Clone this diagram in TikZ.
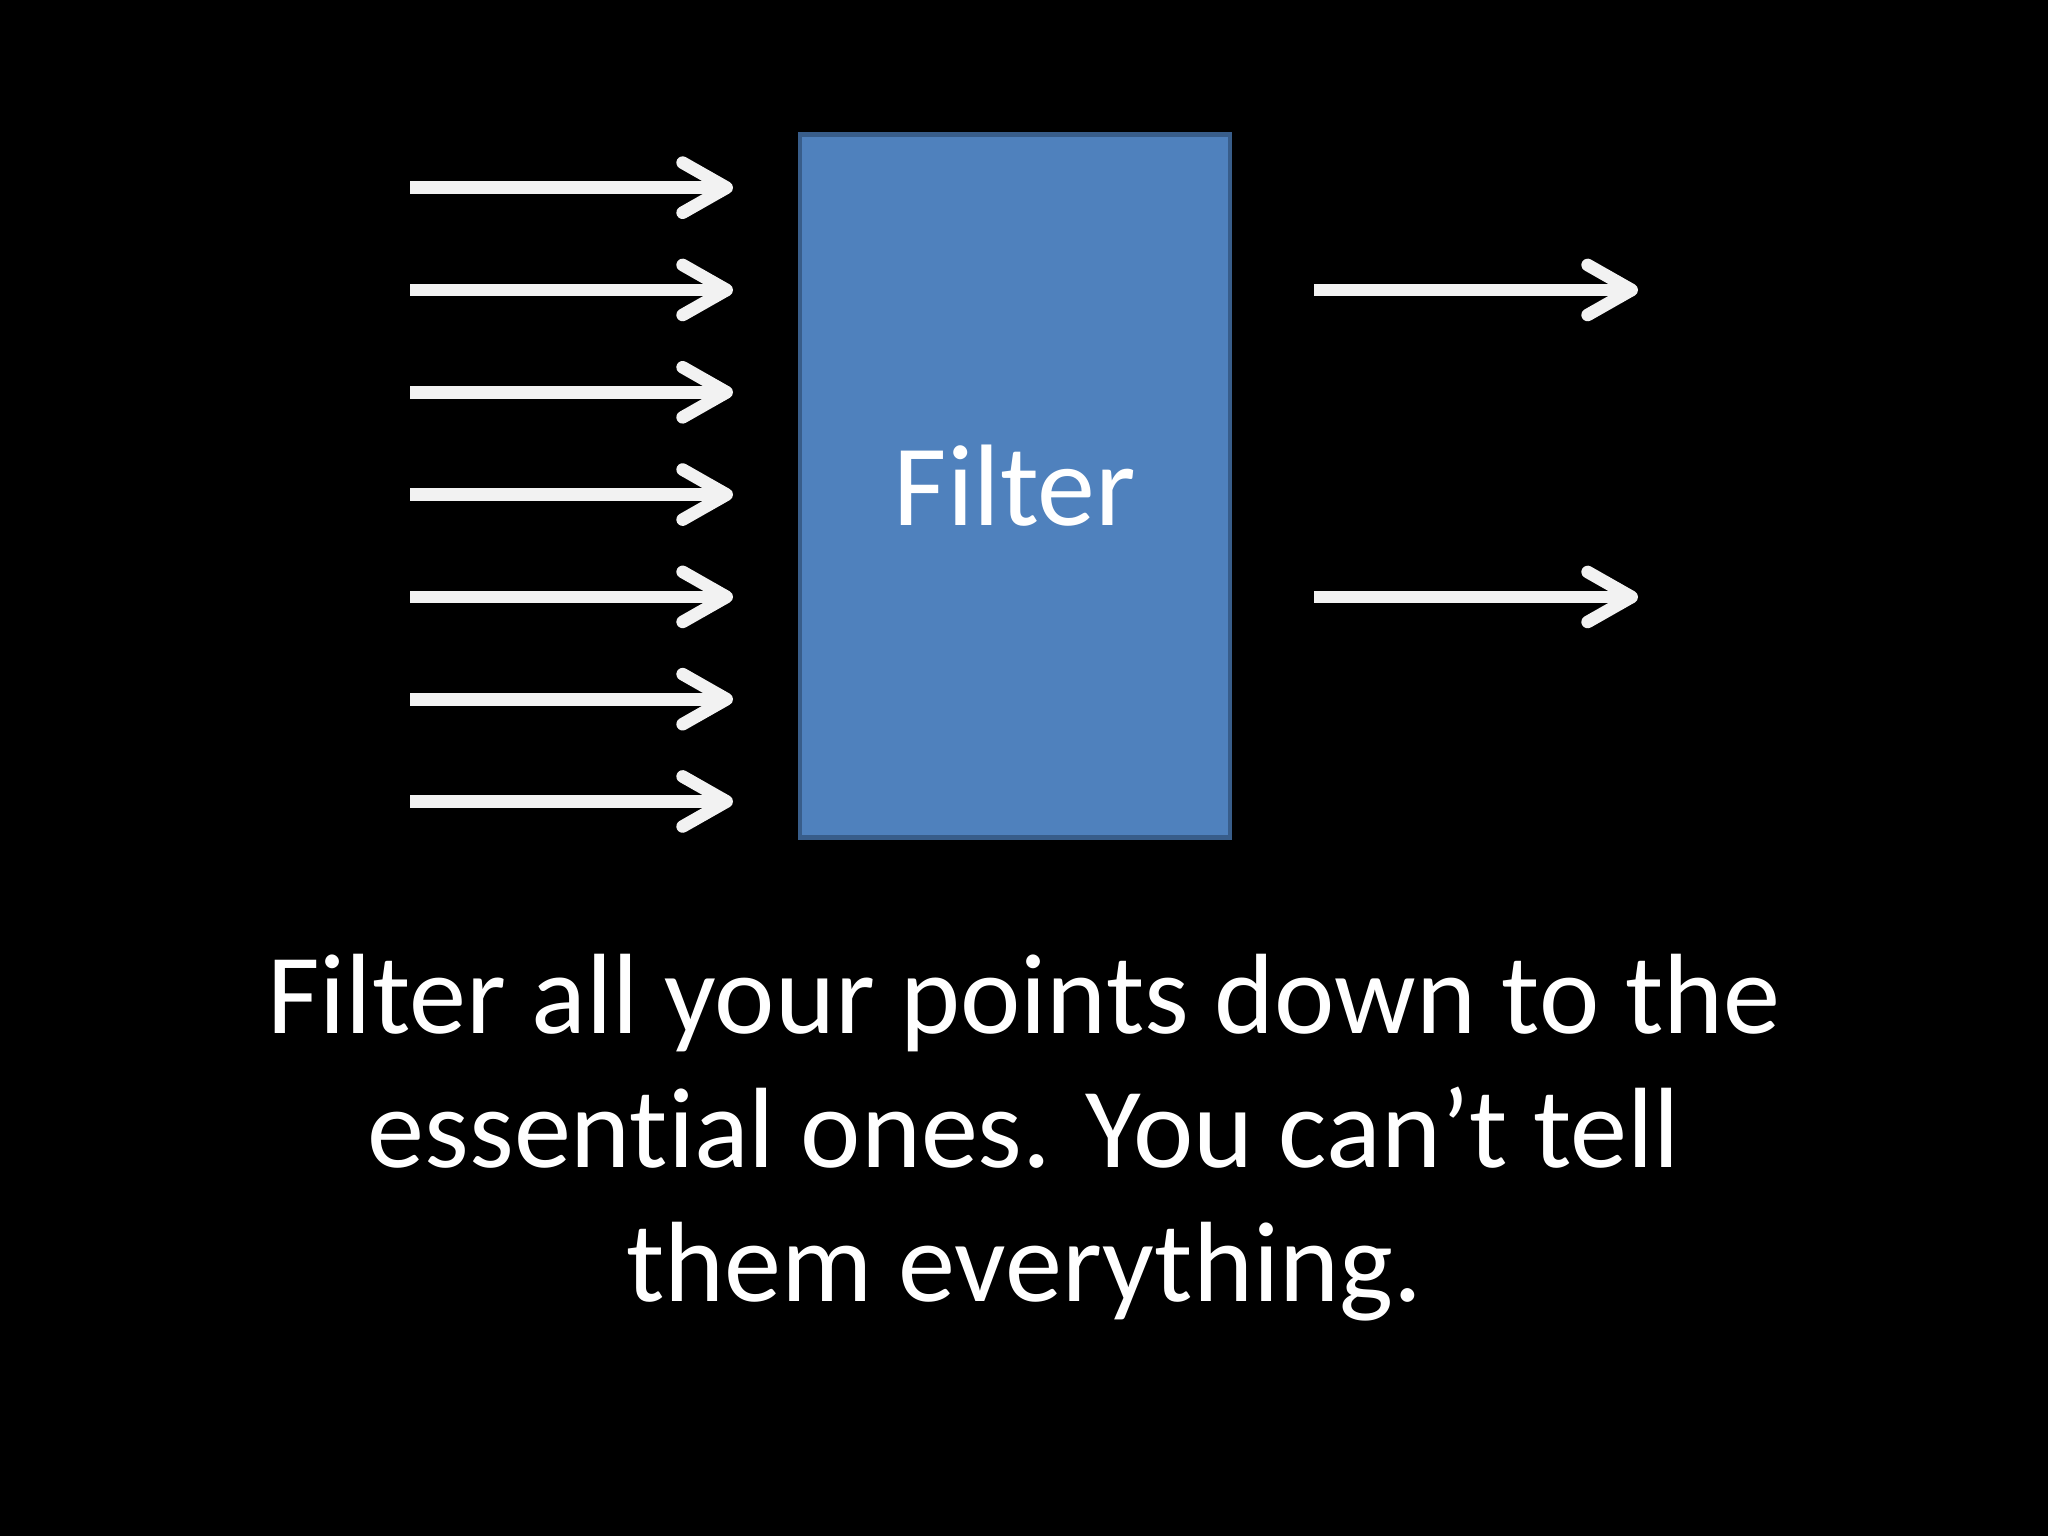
\documentclass[tikz,border=0pt]{standalone}
\usepackage{xcolor}
\usepackage{fontspec}
\setmainfont{Carlito}[Ligatures={NoCommon}]
\usetikzlibrary{arrows.meta}

\definecolor{boxfill}{HTML}{4F81BD}
\definecolor{boxedge}{HTML}{385D8A}
\definecolor{arrowwhite}{HTML}{F2F2F2}

\begin{document}
\begin{tikzpicture}[
    filterbox/.style={rectangle, draw=boxedge, fill=boxfill, line width=1.4pt,
      minimum width=4.30cm, minimum height=7.03cm, inner sep=0pt,
      text=white, font=\fontsize{33}{38}\selectfont},
    flow/.style={draw=arrowwhite, line width=3.6pt,
      -{Straight Barb[length=4.4mm, width=5mm, round]}},
    caption/.style={text=white, align=center, inner sep=0pt,
      font=\fontsize{32.5}{38.2}\selectfont}]
     \fill[black] (0,0) rectangle (20.48,15.36);
     \useasboundingbox (0,0) rectangle (20.48,15.36);

     \node[filterbox] (filter) at (10.15,10.50) {Filter};

     \foreach \i in {0,...,6} {
        \coordinate (in\i) at (4.10,13.483-1.023*\i);
        \coordinate (end\i) at (7.33,13.483-1.023*\i);
        \draw[flow] (in\i) -- (end\i);
     }

     \coordinate (out1) at (13.14,12.46);
     \coordinate (tip1) at (16.38,12.46);
     \coordinate (out2) at (13.14,9.39);
     \coordinate (tip2) at (16.38,9.39);
     \draw[flow] (out1) -- (tip1);
     \draw[flow] (out2) -- (tip2);

     \node[caption, anchor=base] (note) at (10.24,2.34)
        {Filter all your points down to the\\
         essential ones. You can’t tell\\
         them everything.};
 \end{tikzpicture}
\end{document}
